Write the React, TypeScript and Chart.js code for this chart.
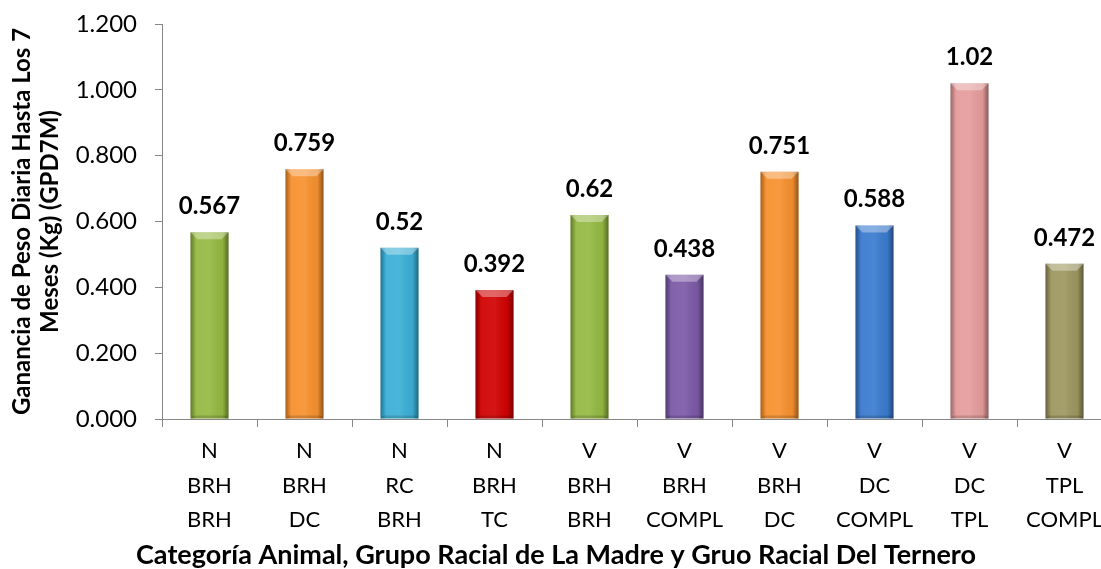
import React, { useEffect, useRef } from "react";
import { Chart, registerables } from "chart.js";

Chart.register(...registerables);

const categories: string[][] = [
  ["N", "BRH", "BRH"],
  ["N", "BRH", "DC"],
  ["N", "RC", "BRH"],
  ["N", "BRH", "TC"],
  ["V", "BRH", "BRH"],
  ["V", "BRH", "COMPL"],
  ["V", "BRH", "DC"],
  ["V", "DC", "COMPL"],
  ["V", "DC", "TPL"],
  ["V", "TPL", "COMPL"],
];
const values: number[] = [0.567, 0.759, 0.52, 0.392, 0.62, 0.438, 0.751, 0.588, 1.02, 0.472];
const valueLabels: string[] = ["0.567", "0.759", "0.52", "0.392", "0.62", "0.438", "0.751", "0.588", "1.02", "0.472"];
const barColors: string[] = [
  "#95b943", "#f7912f", "#3cafd6", "#d10202", "#95b943",
  "#7c5aa7", "#f7912f", "#3a7bcf", "#e59c9c", "#9d9760",
];
const yTitle: string[] = ["Ganancia de Peso Diaria Hasta Los 7", "Meses (Kg) (GPD7M)"];
const xTitle = "Categoría Animal, Grupo Racial de La Madre y Gruo Racial Del Ternero";

const FONT = "Lato, 'Open Sans', sans-serif";

const bevelPlugin = {
  id: "bevel",
  afterDatasetsDraw(chart: any) {
    const ctx = chart.ctx;
    const meta = chart.getDatasetMeta(0);
    meta.data.forEach((bar: any, i: number) => {
      const { x, y, base, width } = bar.getProps(["x", "y", "base", "width"], true);
      const l = x - width / 2;
      const r = x + width / 2;
      const h = base - y;
      ctx.save();
      const g = ctx.createLinearGradient(l, 0, r, 0);
      g.addColorStop(0, "rgba(0,0,0,0.34)");
      g.addColorStop(0.1, "rgba(0,0,0,0.10)");
      g.addColorStop(0.16, "rgba(255,255,255,0.05)");
      g.addColorStop(0.5, "rgba(255,255,255,0.08)");
      g.addColorStop(0.84, "rgba(0,0,0,0.04)");
      g.addColorStop(0.9, "rgba(0,0,0,0.18)");
      g.addColorStop(1, "rgba(0,0,0,0.42)");
      ctx.fillStyle = g;
      ctx.fillRect(l, y, width, h);
      const bv = Math.min(7, h / 2);
      ctx.beginPath();
      ctx.moveTo(l, y);
      ctx.lineTo(r, y);
      ctx.lineTo(r - bv, y + bv);
      ctx.lineTo(l + bv, y + bv);
      ctx.closePath();
      ctx.fillStyle = "rgba(255,255,255,0.35)";
      ctx.fill();
      ctx.beginPath();
      ctx.moveTo(l, base);
      ctx.lineTo(r, base);
      ctx.lineTo(r - 3, base - 3);
      ctx.lineTo(l + 3, base - 3);
      ctx.closePath();
      ctx.fillStyle = "rgba(0,0,0,0.15)";
      ctx.fill();
      ctx.fillStyle = "#000";
      ctx.font = `bold 24px ${FONT}`;
      ctx.textAlign = "center";
      ctx.textBaseline = "alphabetic";
      ctx.fillText(valueLabels[i], x, y - 18);
      ctx.restore();
    });
  },
};

export default function App() {
  const ref = useRef<HTMLCanvasElement | null>(null);
  useEffect(() => {
    if (!ref.current) return;
    const chart = new Chart(ref.current, {
      type: "bar",
      data: {
        labels: categories,
        datasets: [
          {
            data: values,
            backgroundColor: barColors,
            borderWidth: 0,
            barPercentage: 0.4,
            categoryPercentage: 1,
          },
        ],
      },
      options: {
        responsive: false,
        animation: false,
        devicePixelRatio: 1,
        layout: { padding: { top: 24, right: 3, left: 0, bottom: 0 } },
        plugins: {
          legend: { display: false },
          tooltip: { enabled: false },
          title: {
            display: true,
            position: "bottom",
            text: xTitle,
            color: "#000",
            font: { family: FONT, size: 27, weight: "bold", lineHeight: 1.0 },
            padding: { top: 5, bottom: 0 },
          },
        },
        scales: {
          x: {
            afterFit: (scale: any) => {
              scale.height = 118;
            },
            grid: { drawOnChartArea: false, drawTicks: true, tickLength: 8, color: "#868686", offset: true },
            border: { color: "#868686" },
            ticks: {
              color: "#000",
              font: { family: FONT, size: 22, lineHeight: 1.57 },
              padding: 7,
              maxRotation: 0,
              autoSkip: false,
            },
          },
          y: {
            min: 0,
            max: 1.2,
            afterFit: (scale: any) => {
              scale.width = 162;
              scale.paddingTop = 0;
              scale.paddingBottom = 0;
            },
            grid: { drawOnChartArea: false, drawTicks: true, tickLength: 7, color: "#868686" },
            border: { color: "#868686" },
            ticks: {
              stepSize: 0.2,
              color: "#000",
              font: { family: FONT, size: 24 },
              padding: 18,
              callback: (v: any) => Number(v).toFixed(3),
            },
            title: {
              display: true,
              text: yTitle,
              color: "#000",
              font: { family: FONT, size: 24, weight: "bold", lineHeight: 1.17 },
              padding: { top: 8, bottom: 0 },
            },
          },
        },
      },
      plugins: [bevelPlugin],
    });
    return () => chart.destroy();
  }, []);
  return (
    <div style={{ position: "fixed", left: 0, top: 0, width: 1101, height: 569, overflow: "hidden", background: "#fff" }}>
      <canvas ref={ref} width={1115} height={569} style={{ display: "block", width: 1115, height: 569 }} />
    </div>
  );
}
